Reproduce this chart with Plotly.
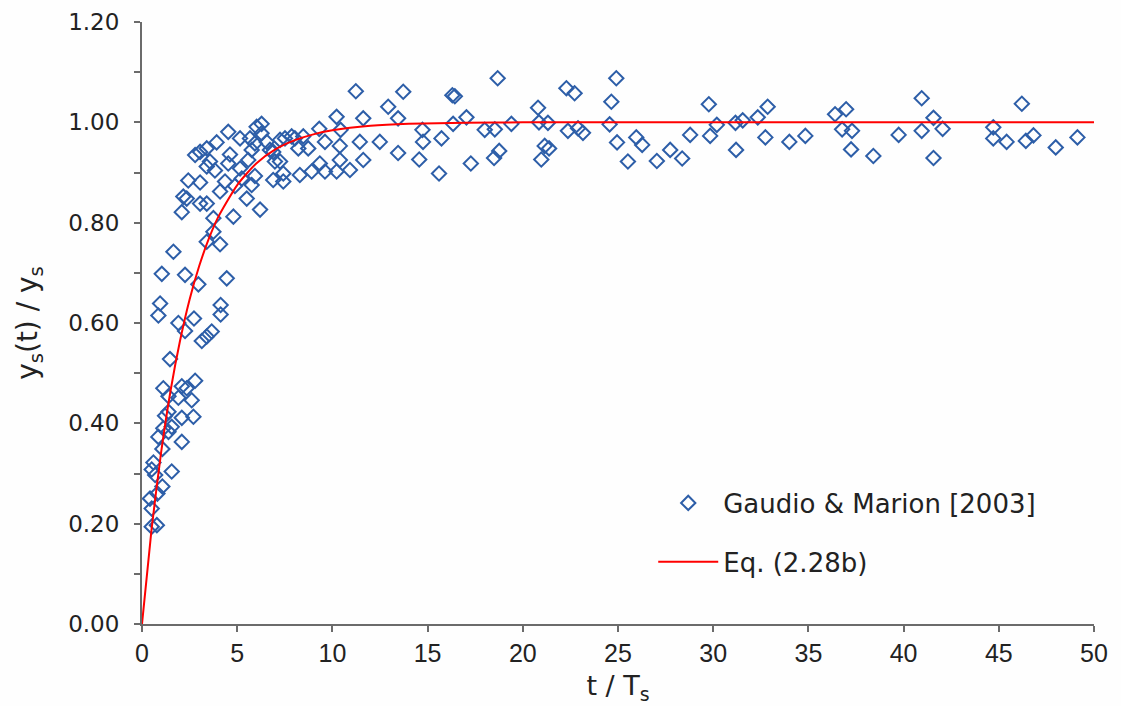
import plotly.graph_objects as go

# ---- data ----
gm_t = [
    2.09, 1.07, 0.60, 0.51, 0.69, 1.56, 1.07, 0.81, 0.42, 0.51, 0.51, 0.78,
    1.04, 2.26, 4.45, 2.96, 0.95, 0.86, 4.13, 4.13, 1.91, 2.73, 2.26, 3.66, 3.40, 3.14,
    1.47, 2.79, 1.12, 2.09, 2.35, 1.39, 1.91, 2.61, 1.39, 1.21, 2.09, 2.70, 1.56, 1.12,
    1.39, 0.86,
    1.65, 3.40, 4.10, 3.75, 2.09, 3.75, 4.80, 6.20, 3.05, 3.40, 2.17, 2.35, 4.10, 5.50,
    4.88, 2.43, 3.05, 5.76, 4.36, 5.24, 5.93, 6.89, 3.83, 3.40, 4.53, 5.15, 3.57, 4.62,
    5.58, 2.79, 3.05, 3.40, 3.92, 5.76, 5.93, 6.72, 6.55, 5.15, 5.67, 4.53, 6.02, 6.28,
    6.28, 6.98,
    11.23, 13.72, 16.30, 16.43, 12.93, 10.22, 11.62, 13.45, 17.04, 16.34, 19.40, 9.31,
    10.43, 14.73, 18.00, 18.53, 9.61, 11.44, 12.49, 14.76, 15.73, 10.39, 8.73, 8.21,
    8.03, 7.51, 13.45, 18.76, 18.49, 11.62, 10.39, 14.56, 17.27, 9.34, 15.60, 8.91,
    9.61, 10.22, 10.92, 8.29, 7.42, 6.89, 7.25, 7.42, 7.25, 7.86, 8.47,
    18.68, 24.91, 22.29, 22.72, 24.65, 29.77, 20.80, 32.86, 32.34, 20.85, 21.32, 24.56,
    30.19, 31.17, 31.55, 22.37, 22.90, 23.16, 28.79, 29.84, 32.74, 34.00, 21.15, 21.38,
    24.95, 25.96, 26.27, 27.74, 28.37, 31.20, 20.97, 25.52, 27.04,
    34.84, 36.40, 36.98, 36.77, 37.29, 37.24, 38.41, 39.74, 40.95, 41.57, 40.95, 42.05,
    41.57, 44.71, 44.71, 45.41, 46.21, 46.42, 46.82, 47.99, 49.13,
]
gm_y = [
    0.363, 0.349, 0.322, 0.308, 0.297, 0.304, 0.274, 0.260, 0.250, 0.230, 0.194, 0.197,
    0.698, 0.696, 0.689, 0.677, 0.639, 0.615, 0.636, 0.617, 0.600, 0.609, 0.584, 0.583, 0.573, 0.564,
    0.528, 0.485, 0.470, 0.474, 0.470, 0.454, 0.451, 0.446, 0.423, 0.415, 0.411, 0.413, 0.393, 0.390,
    0.383, 0.373,
    0.742, 0.762, 0.757, 0.782, 0.821, 0.809, 0.812, 0.826, 0.838, 0.838, 0.852, 0.848, 0.862, 0.848,
    0.873, 0.884, 0.880, 0.875, 0.882, 0.888, 0.893, 0.885, 0.904, 0.912, 0.918, 0.908, 0.922, 0.936,
    0.925, 0.935, 0.941, 0.948, 0.960, 0.945, 0.958, 0.945, 0.961, 0.968, 0.968, 0.981, 0.991, 0.997,
    0.978, 0.922,
    1.062, 1.061, 1.054, 1.052, 1.031, 1.011, 1.008, 1.008, 1.010, 0.997, 0.997, 0.987,
    0.985, 0.985, 0.985, 0.986, 0.961, 0.961, 0.961, 0.961, 0.968, 0.953, 0.948, 0.948,
    0.968, 0.968, 0.939, 0.943, 0.929, 0.925, 0.925, 0.926, 0.918, 0.918, 0.898, 0.902,
    0.902, 0.902, 0.905, 0.895, 0.882, 0.941, 0.922, 0.898, 0.965, 0.972, 0.972,
    1.088, 1.088, 1.068, 1.058, 1.041, 1.036, 1.029, 1.031, 1.010, 1.000, 0.999, 0.996,
    0.995, 0.999, 1.004, 0.983, 0.988, 0.979, 0.975, 0.973, 0.970, 0.961, 0.953, 0.948,
    0.960, 0.970, 0.955, 0.945, 0.928, 0.945, 0.926, 0.922, 0.923,
    0.973, 1.016, 1.026, 0.986, 0.983, 0.946, 0.933, 0.975, 1.048, 1.009, 0.983, 0.987,
    0.929, 0.990, 0.968, 0.961, 1.037, 0.963, 0.974, 0.950, 0.970,
]

# Eq. (2.28b) curve
eq_t = [0, 0.5, 1, 1.5, 2, 2.5, 3, 3.5, 4, 5, 6, 7, 8, 9, 10, 12, 14, 17, 20, 30, 40, 50]
eq_y = [0, 0.188, 0.341, 0.465, 0.565, 0.647, 0.713, 0.767, 0.811, 0.875, 0.918, 0.946,
        0.964, 0.976, 0.984, 0.993, 0.997, 0.999, 1.0, 1.0, 1.0, 1.0]

x_ticks = [0, 5, 10, 15, 20, 25, 30, 35, 40, 45, 50]
y_ticks = [0.0, 0.2, 0.4, 0.6, 0.8, 1.0, 1.2]

FONT = "Liberation Sans, Arial, sans-serif"
WIDE = "DejaVu Sans, Liberation Sans, sans-serif"
AXIS_COL = "#6b6b6b"

fig = go.Figure()
fig.add_trace(go.Scatter(
    x=gm_t, y=gm_y, mode="markers", name="Gaudio &amp; Marion [2003]",
    legendgroup="a",
    marker=dict(symbol="diamond-open", size=11, color="#2d5ea8", line=dict(width=2, color="#2d5ea8")),
))
fig.add_trace(go.Scatter(
    x=eq_t, y=eq_y, mode="lines", name="Eq. (2.28b)", legendgroup="b",
    line=dict(color="#ff0000", width=2, shape="spline", smoothing=0.6),
))

fig.update_layout(
    width=1121, height=706,
    margin=dict(l=142, r=27, t=22, b=82, autoexpand=False),
    paper_bgcolor="#fefefe", plot_bgcolor="#fefefe",
    font=dict(family=FONT, size=22, color="#222222"),
    showlegend=True,
    legend=dict(
        x=0.537, y=0.24, xanchor="left", yanchor="top",
        bgcolor="rgba(0,0,0,0)", font=dict(family=WIDE, size=26, color="#222222"),
        traceorder="grouped", tracegroupgap=22, itemwidth=60,
    ),
    xaxis=dict(
        range=[0, 50], tickvals=x_ticks, ticktext=[str(v) for v in x_ticks],
        showgrid=False, zeroline=False, showline=True, linecolor=AXIS_COL, linewidth=2,
        ticks="outside", ticklen=6, tickwidth=2, tickcolor=AXIS_COL,
        tickfont=dict(family=FONT, size=25),
        title=dict(text="t / T<sub>s</sub>", font=dict(family=WIDE, size=27), standoff=10),
    ),
    yaxis=dict(
        range=[0, 1.2], tickvals=y_ticks, ticktext=["%.2f" % v for v in y_ticks],
        showgrid=False, zeroline=False, showline=True, linecolor=AXIS_COL, linewidth=2,
        ticks="outside", ticklen=6, tickwidth=2, tickcolor=AXIS_COL,
        ticklabelstandoff=10,
        minor=dict(dtick=0.1, tick0=0, ticks="outside", ticklen=6, tickwidth=2, tickcolor=AXIS_COL),
        tickfont=dict(family=WIDE, size=23),
        title=dict(text="y<sub>s</sub>(t) / y<sub>s</sub>", font=dict(family=WIDE, size=28), standoff=22),
    ),
)

fig.write_html("out.html")
